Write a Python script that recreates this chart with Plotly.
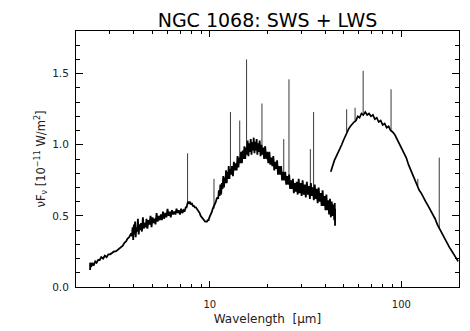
import math
import plotly.graph_objects as go

# ---------------- data ----------------
# SWS spectrum: wavelength [micron] and nu F_nu [1e-11 W/m^2]
sws_wl = [
    2.37, 2.37, 2.40, 2.43, 2.47, 2.52, 2.56, 2.61, 2.66, 2.71, 2.77, 2.83, 2.89, 2.95,
    3.02, 3.09, 3.16, 3.23, 3.30, 3.37, 3.44, 3.51, 3.58, 3.65, 3.72, 3.79, 3.86,
    3.92, 3.95, 3.98, 4.01, 4.04, 4.07, 4.10, 4.13, 4.17, 4.21, 4.25, 4.29, 4.33, 4.37,
    4.42, 4.47, 4.52, 4.57, 4.62, 4.67, 4.72, 4.78, 4.84, 4.90, 4.96, 5.02, 5.08, 5.14,
    5.20, 5.27, 5.34, 5.41, 5.48, 5.55, 5.62, 5.69, 5.77, 5.85, 5.93, 6.01, 6.09, 6.17,
    6.25, 6.34, 6.43, 6.52, 6.61, 6.70, 6.79, 6.88, 6.98, 7.08, 7.18, 7.28, 7.38, 7.48,
    7.56,
    7.65, 7.72, 7.80, 7.88, 7.96, 8.05, 8.15, 8.25, 8.35, 8.45, 8.55, 8.65, 8.75, 8.85,
    8.95, 9.05, 9.15, 9.25, 9.35, 9.45, 9.55, 9.65, 9.75, 9.85, 9.95, 10.05, 10.15,
    10.25, 10.35, 10.45, 10.55, 10.65, 10.75, 10.85, 10.95,
    11.05, 11.15, 11.25, 11.35, 11.45, 11.55, 11.65, 11.75, 11.85, 11.95, 12.05, 12.15,
    12.25, 12.35, 12.45, 12.55, 12.65, 12.75, 12.90, 13.05, 13.20, 13.35, 13.50, 13.65,
    13.80, 13.95, 14.10, 14.25, 14.40, 14.55, 14.70, 14.85, 15.00, 15.15, 15.30, 15.45,
    15.60, 15.75, 15.90, 16.05, 16.20, 16.35, 16.50, 16.65, 16.80, 16.95, 17.10, 17.25,
    17.40, 17.55, 17.70, 17.85, 18.00, 18.20, 18.40, 18.60, 18.80, 19.00, 19.20, 19.45,
    19.70, 19.95, 20.20, 20.45, 20.70, 20.95, 21.20, 21.45, 21.70, 21.95, 22.20, 22.45,
    22.70, 22.95, 23.25, 23.55, 23.85, 24.15, 24.45, 24.75, 25.05, 25.35, 25.65, 25.95,
    26.25, 26.55, 26.85, 27.15, 27.45, 27.75,
    28.05, 28.40, 28.75, 29.10, 29.45, 29.80, 30.15, 30.50, 30.90, 31.30, 31.70, 32.10,
    32.50, 32.90, 33.30, 33.70, 34.10, 34.50, 34.90, 35.30, 35.70, 36.10, 36.55, 37.00,
    37.45, 37.90, 38.35, 38.80, 39.25, 39.70, 40.15, 40.60, 41.05, 41.50, 41.95, 42.40,
    42.85, 43.30, 43.75, 44.20, 44.65, 44.90, 45.05, 45.10,
]
sws_flux = [
    0.12, 0.17, 0.14, 0.17, 0.15, 0.18, 0.17, 0.19, 0.19, 0.21, 0.20, 0.22, 0.21, 0.23,
    0.23, 0.24, 0.25, 0.25, 0.26, 0.27, 0.28, 0.29, 0.31, 0.32, 0.34, 0.35, 0.37,
    0.36, 0.42, 0.33, 0.44, 0.37, 0.46, 0.35, 0.42, 0.39, 0.48, 0.37, 0.44, 0.40, 0.45,
    0.39, 0.49, 0.41, 0.45, 0.42, 0.48, 0.41, 0.47, 0.44, 0.50, 0.42, 0.49, 0.45, 0.48,
    0.44, 0.52, 0.46, 0.50, 0.47, 0.51, 0.47, 0.53, 0.48, 0.52, 0.49, 0.55, 0.50, 0.53,
    0.49, 0.54, 0.51, 0.53, 0.51, 0.55, 0.52, 0.54, 0.51, 0.55, 0.52, 0.54, 0.53, 0.56,
    0.56,
    0.59, 0.60, 0.59, 0.60, 0.58, 0.59, 0.57, 0.57, 0.56, 0.56, 0.55, 0.54, 0.53, 0.52,
    0.50, 0.49, 0.48, 0.47, 0.46, 0.46, 0.46, 0.46, 0.47, 0.47, 0.49, 0.50, 0.52,
    0.53, 0.55, 0.56, 0.58, 0.59, 0.60, 0.62, 0.63,
    0.62, 0.68, 0.64, 0.72, 0.65, 0.73, 0.69, 0.78, 0.70, 0.77, 0.73, 0.82,
    0.73, 0.81, 0.76, 0.85, 0.76, 0.83, 0.79, 0.85, 0.78, 0.88, 0.82, 0.87,
    0.82, 0.92, 0.84, 0.91, 0.87, 0.95, 0.87, 0.96, 0.90, 0.99, 0.90, 0.98,
    0.93, 1.03, 0.92, 1.01, 0.95, 1.04, 0.93, 1.02, 0.96, 1.05, 0.94, 1.02,
    0.96, 1.04, 0.93, 1.01, 0.95, 1.03, 0.92, 1.00, 0.93, 0.98, 0.90, 0.99,
    0.90, 0.95, 0.87, 0.95, 0.86, 0.91, 0.85, 0.92, 0.82, 0.88, 0.83, 0.89,
    0.79, 0.85, 0.79, 0.85, 0.75, 0.81, 0.75, 0.81, 0.72, 0.78, 0.72, 0.79,
    0.69, 0.75, 0.69, 0.76, 0.66, 0.73,
    0.67, 0.74, 0.65, 0.76, 0.66, 0.73, 0.64, 0.75, 0.65, 0.72, 0.63, 0.74,
    0.65, 0.71, 0.62, 0.73, 0.64, 0.70, 0.61, 0.72, 0.62, 0.69, 0.59, 0.70,
    0.60, 0.66, 0.57, 0.68, 0.57, 0.64, 0.54, 0.65, 0.54, 0.61, 0.51, 0.62,
    0.49, 0.60, 0.50, 0.58, 0.47, 0.59, 0.43, 0.55,
]

# LWS spectrum
lws_wl = [
    42.8, 43.4, 44.0, 44.7, 45.4, 46.2, 47.0, 47.9, 48.8, 49.8, 50.8, 51.9, 53.0, 54.2,
    55.4, 56.6, 57.9, 59.2, 60.5, 61.9, 63.3, 64.8, 66.3, 67.8, 69.4, 71.0, 72.7, 74.4,
    76.2, 78.0, 79.9, 81.8, 83.8, 85.8, 87.9, 90.0, 92.5, 95.0, 97.5, 100.0, 103.0,
    106.0, 109.0, 112.0, 115.0, 118.0, 121.0, 124.0, 127.0, 130.0, 134.0, 138.0, 142.0,
    146.0, 150.0, 154.0, 158.0, 162.0, 166.0, 170.0, 174.0, 178.0, 182.0, 186.0, 190.0,
    194.0, 198.0,
]
lws_flux = [
    0.81, 0.84, 0.86, 0.89, 0.91, 0.93, 0.95, 0.98, 1.00, 1.03, 1.06, 1.09, 1.11, 1.13,
    1.15, 1.16, 1.17, 1.20, 1.19, 1.22, 1.21, 1.23, 1.21, 1.22, 1.20, 1.21, 1.18, 1.19,
    1.16, 1.17, 1.14, 1.15, 1.12, 1.13, 1.10, 1.09, 1.07, 1.04, 1.01, 0.98, 0.95,
    0.91, 0.86, 0.82, 0.78, 0.74, 0.71, 0.68, 0.66, 0.63, 0.60, 0.57, 0.54,
    0.51, 0.48, 0.44, 0.41, 0.38, 0.35, 0.33, 0.30, 0.28, 0.26, 0.24, 0.22,
    0.20, 0.18,
]

# Emission lines: wavelength, continuum level at the line, peak level
line_wl = [7.65, 10.51, 12.81, 14.32, 15.55, 18.71, 24.32, 25.89, 33.48, 34.81,
           51.81, 57.32, 63.18, 88.36, 121.9, 157.7]
line_base = [0.58, 0.55, 0.80, 0.88, 0.95, 0.97, 0.80, 0.75, 0.68, 0.67,
             1.09, 1.17, 1.22, 1.10, 0.71, 0.41]
line_peak = [0.94, 0.76, 1.23, 1.17, 1.60, 1.29, 1.04, 1.46, 0.97, 1.23,
             1.25, 1.26, 1.52, 1.39, 0.76, 0.91]

# Axis ticks
x_major = [10, 100]
x_major_text = ["10", "100"]
x_minor = [2, 3, 4, 5, 6, 7, 8, 9, 20, 30, 40, 50, 60, 70, 80, 90, 200]
y_major = [0.0, 0.5, 1.0, 1.5]
y_major_text = ["0.0", "0.5", "1.0", "1.5"]
y_minor = [0.1, 0.2, 0.3, 0.4, 0.6, 0.7, 0.8, 0.9, 1.1, 1.2, 1.3, 1.4, 1.6, 1.7]

# ---------------- figure ----------------
fig = go.Figure()

lx, ly = [], []
for w, b, p in zip(line_wl, line_base, line_peak):
    lx += [w, w, None]
    ly += [b, p, None]
fig.add_trace(go.Scatter(x=lx, y=ly, mode="lines",
                         line=dict(color="#3a3a3a", width=1), hoverinfo="skip"))

fig.add_trace(go.Scatter(x=sws_wl, y=sws_flux, mode="lines",
                         line=dict(color="black", width=1.8)))
fig.add_trace(go.Scatter(x=lws_wl, y=lws_flux, mode="lines",
                         line=dict(color="black", width=1.7)))

FONT = "DejaVu Sans"
fig.update_layout(
    width=470, height=331,
    margin=dict(l=76, r=11, t=31, b=44),
    paper_bgcolor="white", plot_bgcolor="white",
    showlegend=False,
    font=dict(family=FONT, color="#222"),
    title=dict(text="NGC 1068: SWS + LWS", x=0.5, xref="paper", xanchor="center",
               y=1 - 20 / 331, yref="container", yanchor="middle",
               font=dict(family=FONT, size=19, color="black")),
)
fig.update_xaxes(
    type="log", range=[math.log10(2), math.log10(200)], automargin=False,
    showline=True, linecolor="black", linewidth=1, mirror="allticks",
    showgrid=False, zeroline=False,
    ticks="inside", ticklen=6, tickwidth=1, tickcolor="black",
    tickmode="array", tickvals=x_major, ticktext=x_major_text,
    tickfont=dict(size=10, color="#222"), ticklabelstandoff=8,
    minor=dict(ticks="inside", ticklen=3, tickwidth=1, tickcolor="black",
               tickmode="array", tickvals=x_minor, showgrid=False),
    title=dict(text="Wavelength  [μm]", font=dict(size=12, color="#222"), standoff=5),
)
fig.update_yaxes(
    range=[0, 1.8], automargin=False,
    showline=True, linecolor="black", linewidth=1, mirror="allticks",
    showgrid=False, zeroline=False,
    ticks="inside", ticklen=7, tickwidth=1, tickcolor="black",
    tickmode="array", tickvals=y_major, ticktext=y_major_text,
    tickfont=dict(size=10.5, color="#222"), ticklabelstandoff=4,
    minor=dict(ticks="inside", ticklen=4, tickwidth=1, tickcolor="black",
               tickmode="array", tickvals=y_minor, showgrid=False),
    title=dict(text="νF<sub>ν</sub> [10<sup>−11</sup> W/m<sup>2</sup>]",
               font=dict(size=11.5, color="#222"), standoff=4),
)

fig.write_html("out.html")
